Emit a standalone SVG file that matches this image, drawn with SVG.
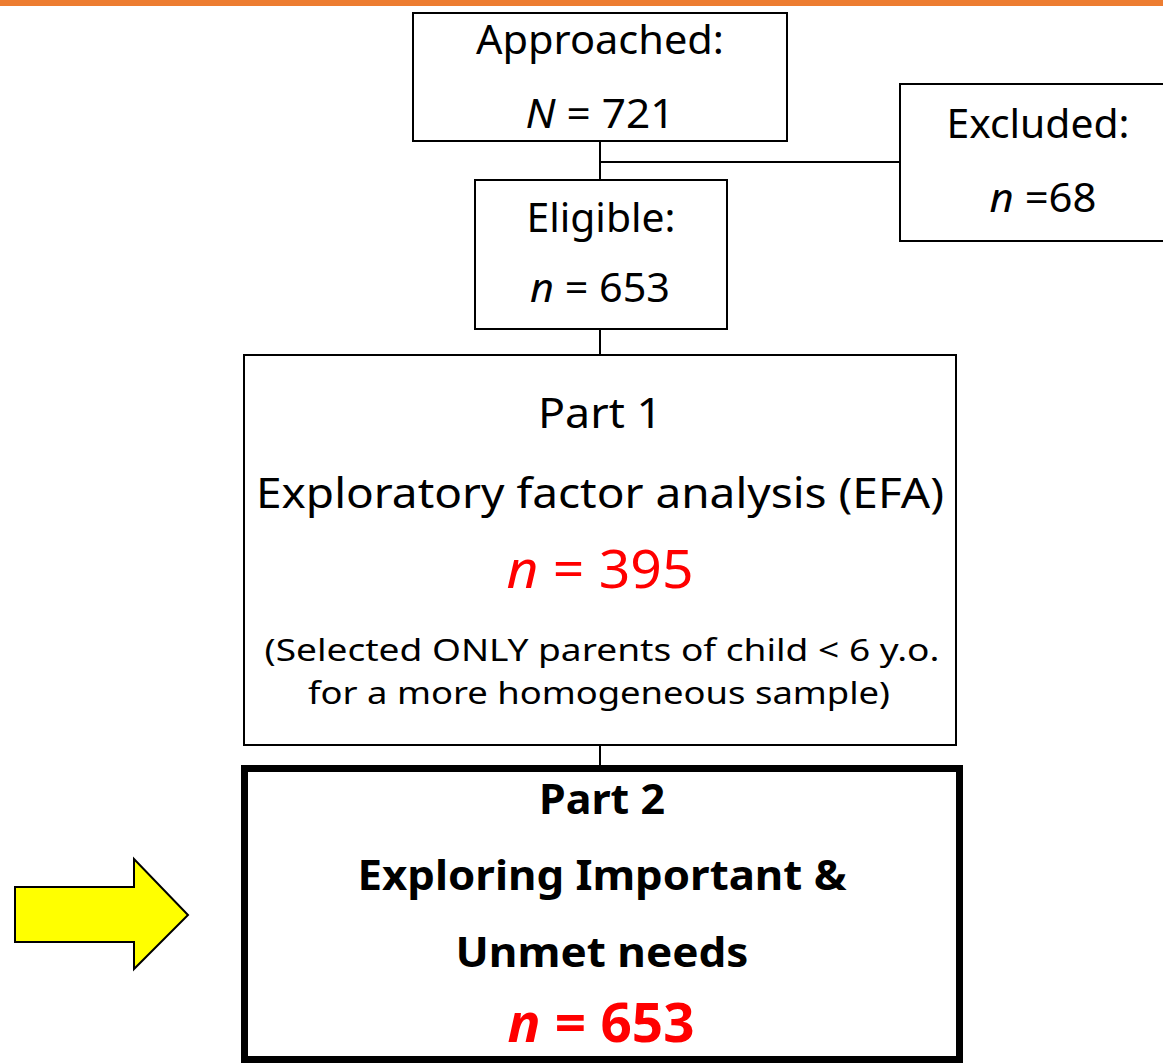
<svg xmlns="http://www.w3.org/2000/svg" width="1163" height="1063" viewBox="0 0 1163 1063">
<style>
.box{fill:#fff;stroke:#000;stroke-width:2}
.thick{fill:#fff;stroke:#000;stroke-width:7}
.t{font-family:"Noto Sans","Open Sans","DejaVu Sans",sans-serif;text-anchor:middle;fill:#000}
.b{font-weight:bold}
.red{fill:#FF0000}
.conn{stroke:#000;stroke-width:2;fill:none}
</style>
<rect x="0" y="0" width="1163" height="6" fill="#ED7D31"/>
<g id="connectors">
<line class="conn" x1="600" y1="141" x2="600" y2="180"/>
<line class="conn" x1="600" y1="162" x2="900" y2="162"/>
<line class="conn" x1="600" y1="329" x2="600" y2="355"/>
<line class="conn" x1="600" y1="745" x2="600" y2="766"/>
</g>
<g id="approached">
<rect class="box" x="413" y="13" width="374" height="128"/>
<text class="t" x="600" y="54" font-size="40" textLength="248" lengthAdjust="spacingAndGlyphs">Approached:</text>
<text class="t" x="600" y="128" font-size="40" textLength="149" lengthAdjust="spacingAndGlyphs"><tspan font-style="italic">N</tspan> = 721</text>
</g>
<g id="excluded">
<rect class="box" x="900" y="84" width="275" height="157"/>
<text class="t" x="1038" y="138" font-size="40" textLength="183" lengthAdjust="spacingAndGlyphs">Excluded:</text>
<text class="t" x="1043" y="212" font-size="40" textLength="107" lengthAdjust="spacingAndGlyphs"><tspan font-style="italic">n</tspan> =68</text>
</g>
<g id="eligible">
<rect class="box" x="475" y="180" width="252" height="149"/>
<text class="t" x="601" y="232" font-size="40" textLength="149" lengthAdjust="spacingAndGlyphs">Eligible:</text>
<text class="t" x="600" y="302" font-size="40" textLength="140" lengthAdjust="spacingAndGlyphs"><tspan font-style="italic">n</tspan> = 653</text>
</g>
<g id="part1">
<rect class="box" x="244" y="355" width="712" height="390"/>
<text class="t" x="600" y="428" font-size="42" textLength="124" lengthAdjust="spacingAndGlyphs">Part 1</text>
<text class="t" x="600" y="508" font-size="42" textLength="688" lengthAdjust="spacingAndGlyphs">Exploratory factor analysis (EFA)</text>
<text class="t red" x="600" y="588" font-size="52" textLength="187" lengthAdjust="spacingAndGlyphs"><tspan font-style="italic">n</tspan> = 395</text>
<text class="t" x="602" y="661" font-size="31" textLength="675" lengthAdjust="spacingAndGlyphs">(Selected ONLY parents of child &lt; 6 y.o.</text>
<text class="t" x="599" y="704" font-size="31" textLength="582" lengthAdjust="spacingAndGlyphs">for a more homogeneous sample)</text>
</g>
<g id="part2">
<rect class="thick" x="244.5" y="768.5" width="715" height="291"/>
<text class="t b" x="602" y="814" font-size="41" textLength="126" lengthAdjust="spacingAndGlyphs">Part 2</text>
<text class="t b" x="602" y="890" font-size="41" textLength="489" lengthAdjust="spacingAndGlyphs">Exploring Important &amp;</text>
<text class="t b" x="602" y="967" font-size="41" textLength="293" lengthAdjust="spacingAndGlyphs">Unmet needs</text>
<text class="t b red" x="601" y="1042" font-size="54" textLength="187" lengthAdjust="spacingAndGlyphs"><tspan font-style="italic">n</tspan> = 653</text>
</g>
<g id="arrow">
<polygon points="15,887 134,887 134,859 188,915 134,969 134,942 15,942" fill="#FFFF00" stroke="#000" stroke-width="2"/>
</g>
</svg>
